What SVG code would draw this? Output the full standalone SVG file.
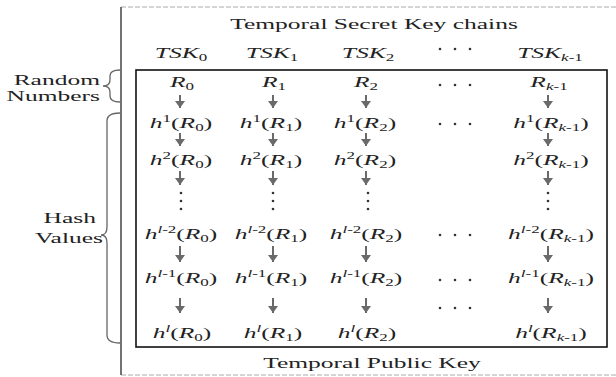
<svg xmlns="http://www.w3.org/2000/svg" width="616" height="377" viewBox="0 0 616 377">
<style>
text{font-family:'Liberation Serif','DejaVu Serif',serif;font-size:15px;fill:#222}
.i{font-style:italic}
.n{font-style:normal}
.s{font-size:10px}
.c{text-anchor:middle}
.e{text-anchor:end}
.arr{stroke:#6a6a6a;stroke-width:2;fill:none}
.dot{fill:#333}
.brace{stroke:#666;stroke-width:1.3;fill:none}
</style>
<defs>
<marker id="ah" markerUnits="userSpaceOnUse" markerWidth="8" markerHeight="10" refX="7" refY="5" orient="auto">
<path d="M0,0 L7,5 L0,10 z" fill="#6a6a6a"/>
</marker>
<circle id="d" r="1.3" class="dot"/>
</defs>
<rect width="616" height="377" fill="#fff"/>

<g id="frame">
<line x1="121" y1="7" x2="616" y2="7" stroke="#aaa" stroke-width="1" stroke-dasharray="5,2"/>
<line x1="121" y1="375" x2="616" y2="375" stroke="#aaa" stroke-width="1" stroke-dasharray="5,2"/>
<line x1="121" y1="7" x2="121" y2="375" stroke="#444" stroke-width="1.5"/>
<rect x="136" y="70" width="471" height="277" fill="none" stroke="#111" stroke-width="1.6"/>
</g>

<g id="title"><text class="c" font-family="Liberation Serif, serif" transform="translate(374,29) scale(1.7,1)">Temporal Secret Key chains</text></g>
<g id="footer"><text class="c" transform="translate(372,368) scale(1.7,1)">Temporal Public Key</text></g>

<g id="random-numbers">
<text class="e" transform="translate(100,85) scale(1.7,1)">Random</text>
<text class="e" transform="translate(100,101) scale(1.7,1)">Numbers</text>
<path class="brace" d="M120,70 Q110,70 110,76 L110,80 Q110,86 103,86 Q110,86 110,92 L110,96 Q110,102 120,102"/>
</g>
<g id="hash-values">
<text class="e" transform="translate(96,223) scale(1.7,1)">Hash</text>
<text class="e" transform="translate(103,243) scale(1.7,1)">Values</text>
<path class="brace" d="M120,113 Q107,113 107,121 L107,227 Q107,235 101,235 Q107,235 107,243 L107,335 Q107,343 120,343"/>
</g>

<g id="header-row">
<text class="i c" transform="translate(181,58) scale(1.7,1)">TSK<tspan class="s n" dy="3">0</tspan></text>
<text class="i c" transform="translate(272,58) scale(1.7,1)">TSK<tspan class="s n" dy="3">1</tspan></text>
<text class="i c" transform="translate(368,58) scale(1.7,1)">TSK<tspan class="s n" dy="3">2</tspan></text>
<text class="i c" transform="translate(550,58) scale(1.7,1)">TSK<tspan class="s" dy="3">k<tspan class="n">-1</tspan></tspan></text>
</g>

<g id="col0">
<text class="i c" transform="translate(182,87) scale(1.7,1)">R<tspan class="s n" dy="3">0</tspan></text>
<text class="i c" transform="translate(181,128) scale(1.7,1)">h<tspan class="s n" dy="-6">1</tspan><tspan class="n" dy="6">(</tspan>R<tspan class="s n" dy="3">0</tspan><tspan class="n" dy="-3">)</tspan></text>
<text class="i c" transform="translate(181,165) scale(1.7,1)">h<tspan class="s n" dy="-6">2</tspan><tspan class="n" dy="6">(</tspan>R<tspan class="s n" dy="3">0</tspan><tspan class="n" dy="-3">)</tspan></text>
<text class="i c" transform="translate(181,239) scale(1.7,1)">h<tspan class="s" dy="-6">l<tspan class="n">-2</tspan></tspan><tspan class="n" dy="6">(</tspan>R<tspan class="s n" dy="3">0</tspan><tspan class="n" dy="-3">)</tspan></text>
<text class="i c" transform="translate(181,283) scale(1.7,1)">h<tspan class="s" dy="-6">l<tspan class="n">-1</tspan></tspan><tspan class="n" dy="6">(</tspan>R<tspan class="s n" dy="3">0</tspan><tspan class="n" dy="-3">)</tspan></text>
<text class="i c" transform="translate(182,338) scale(1.7,1)">h<tspan class="s" dy="-6">l</tspan><tspan class="n" dy="6">(</tspan>R<tspan class="s n" dy="3">0</tspan><tspan class="n" dy="-3">)</tspan></text>
<use href="#d" x="181" y="193"/><use href="#d" x="181" y="201"/><use href="#d" x="181" y="209"/>
</g>

<g id="col1">
<text class="i c" transform="translate(274,87) scale(1.7,1)">R<tspan class="s n" dy="3">1</tspan></text>
<text class="i c" transform="translate(271,128) scale(1.7,1)">h<tspan class="s n" dy="-6">1</tspan><tspan class="n" dy="6">(</tspan>R<tspan class="s n" dy="3">1</tspan><tspan class="n" dy="-3">)</tspan></text>
<text class="i c" transform="translate(271,165) scale(1.7,1)">h<tspan class="s n" dy="-6">2</tspan><tspan class="n" dy="6">(</tspan>R<tspan class="s n" dy="3">1</tspan><tspan class="n" dy="-3">)</tspan></text>
<text class="i c" transform="translate(271,239) scale(1.7,1)">h<tspan class="s" dy="-6">l<tspan class="n">-2</tspan></tspan><tspan class="n" dy="6">(</tspan>R<tspan class="s n" dy="3">1</tspan><tspan class="n" dy="-3">)</tspan></text>
<text class="i c" transform="translate(271,283) scale(1.7,1)">h<tspan class="s" dy="-6">l<tspan class="n">-1</tspan></tspan><tspan class="n" dy="6">(</tspan>R<tspan class="s n" dy="3">1</tspan><tspan class="n" dy="-3">)</tspan></text>
<text class="i c" transform="translate(273,338) scale(1.7,1)">h<tspan class="s" dy="-6">l</tspan><tspan class="n" dy="6">(</tspan>R<tspan class="s n" dy="3">1</tspan><tspan class="n" dy="-3">)</tspan></text>
<use href="#d" x="273" y="193"/><use href="#d" x="273" y="201"/><use href="#d" x="273" y="209"/>
</g>

<g id="col2">
<text class="i c" transform="translate(366,87) scale(1.7,1)">R<tspan class="s n" dy="3">2</tspan></text>
<text class="i c" transform="translate(365,128) scale(1.7,1)">h<tspan class="s n" dy="-6">1</tspan><tspan class="n" dy="6">(</tspan>R<tspan class="s n" dy="3">2</tspan><tspan class="n" dy="-3">)</tspan></text>
<text class="i c" transform="translate(365,165) scale(1.7,1)">h<tspan class="s n" dy="-6">2</tspan><tspan class="n" dy="6">(</tspan>R<tspan class="s n" dy="3">2</tspan><tspan class="n" dy="-3">)</tspan></text>
<text class="i c" transform="translate(366,239) scale(1.7,1)">h<tspan class="s" dy="-6">l<tspan class="n">-2</tspan></tspan><tspan class="n" dy="6">(</tspan>R<tspan class="s n" dy="3">2</tspan><tspan class="n" dy="-3">)</tspan></text>
<text class="i c" transform="translate(366,283) scale(1.7,1)">h<tspan class="s" dy="-6">l<tspan class="n">-1</tspan></tspan><tspan class="n" dy="6">(</tspan>R<tspan class="s n" dy="3">2</tspan><tspan class="n" dy="-3">)</tspan></text>
<text class="i c" transform="translate(367,338) scale(1.7,1)">h<tspan class="s" dy="-6">l</tspan><tspan class="n" dy="6">(</tspan>R<tspan class="s n" dy="3">2</tspan><tspan class="n" dy="-3">)</tspan></text>
<use href="#d" x="368" y="193"/><use href="#d" x="368" y="201"/><use href="#d" x="368" y="209"/>
</g>

<g id="col-dots">
<use href="#d" x="440" y="49"/><use href="#d" x="455" y="49"/><use href="#d" x="470" y="49"/>
<use href="#d" x="440" y="85"/><use href="#d" x="455" y="85"/><use href="#d" x="470" y="85"/>
<use href="#d" x="440" y="124"/><use href="#d" x="455" y="124"/><use href="#d" x="470" y="124"/>
<use href="#d" x="440" y="235"/><use href="#d" x="455" y="235"/><use href="#d" x="470" y="235"/>
<use href="#d" x="440" y="280"/><use href="#d" x="455" y="280"/><use href="#d" x="470" y="280"/>
<use href="#d" x="440" y="308"/><use href="#d" x="455" y="308"/><use href="#d" x="470" y="308"/>
</g>

<g id="colk">
<text class="i c" transform="translate(549,87) scale(1.7,1)">R<tspan class="s" dy="3">k<tspan class="n">-1</tspan></tspan></text>
<text class="i c" transform="translate(551,128) scale(1.7,1)">h<tspan class="s n" dy="-6">1</tspan><tspan class="n" dy="6">(</tspan>R<tspan class="s" dy="3">k<tspan class="n">-1</tspan></tspan><tspan class="n" dy="-3">)</tspan></text>
<text class="i c" transform="translate(551,165) scale(1.7,1)">h<tspan class="s n" dy="-6">2</tspan><tspan class="n" dy="6">(</tspan>R<tspan class="s" dy="3">k<tspan class="n">-1</tspan></tspan><tspan class="n" dy="-3">)</tspan></text>
<text class="i c" transform="translate(551,239) scale(1.7,1)">h<tspan class="s" dy="-6">l<tspan class="n">-2</tspan></tspan><tspan class="n" dy="6">(</tspan>R<tspan class="s" dy="3">k<tspan class="n">-1</tspan></tspan><tspan class="n" dy="-3">)</tspan></text>
<text class="i c" transform="translate(551,283) scale(1.7,1)">h<tspan class="s" dy="-6">l<tspan class="n">-1</tspan></tspan><tspan class="n" dy="6">(</tspan>R<tspan class="s" dy="3">k<tspan class="n">-1</tspan></tspan><tspan class="n" dy="-3">)</tspan></text>
<text class="i c" transform="translate(551,338) scale(1.7,1)">h<tspan class="s" dy="-6">l</tspan><tspan class="n" dy="6">(</tspan>R<tspan class="s" dy="3">k<tspan class="n">-1</tspan></tspan><tspan class="n" dy="-3">)</tspan></text>
<use href="#d" x="548" y="193"/><use href="#d" x="548" y="201"/><use href="#d" x="548" y="209"/>
</g>

<g id="connectors">
<line class="arr" marker-end="url(#ah)" x1="180" y1="95" x2="180" y2="108"/>
<line class="arr" marker-end="url(#ah)" x1="180" y1="133" x2="180" y2="146"/>
<line class="arr" marker-end="url(#ah)" x1="180" y1="171" x2="180" y2="185"/>
<line class="arr" marker-end="url(#ah)" x1="180" y1="246" x2="180" y2="262"/>
<line class="arr" marker-end="url(#ah)" x1="180" y1="298" x2="180" y2="313"/>
<line class="arr" marker-end="url(#ah)" x1="273" y1="95" x2="273" y2="108"/>
<line class="arr" marker-end="url(#ah)" x1="273" y1="133" x2="273" y2="146"/>
<line class="arr" marker-end="url(#ah)" x1="273" y1="171" x2="273" y2="185"/>
<line class="arr" marker-end="url(#ah)" x1="273" y1="246" x2="273" y2="262"/>
<line class="arr" marker-end="url(#ah)" x1="273" y1="298" x2="273" y2="313"/>
<line class="arr" marker-end="url(#ah)" x1="366" y1="95" x2="366" y2="108"/>
<line class="arr" marker-end="url(#ah)" x1="366" y1="133" x2="366" y2="146"/>
<line class="arr" marker-end="url(#ah)" x1="366" y1="171" x2="366" y2="185"/>
<line class="arr" marker-end="url(#ah)" x1="366" y1="246" x2="366" y2="262"/>
<line class="arr" marker-end="url(#ah)" x1="366" y1="298" x2="366" y2="313"/>
<line class="arr" marker-end="url(#ah)" x1="548" y1="95" x2="548" y2="108"/>
<line class="arr" marker-end="url(#ah)" x1="548" y1="133" x2="548" y2="146"/>
<line class="arr" marker-end="url(#ah)" x1="548" y1="171" x2="548" y2="185"/>
<line class="arr" marker-end="url(#ah)" x1="548" y1="246" x2="548" y2="262"/>
<line class="arr" marker-end="url(#ah)" x1="548" y1="298" x2="548" y2="313"/>
</g>
</svg>
